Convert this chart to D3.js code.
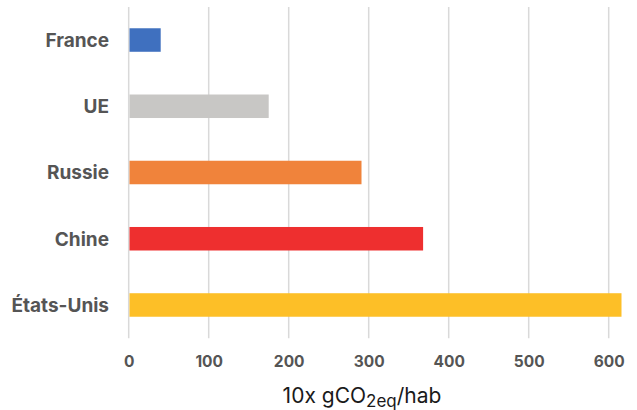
<!DOCTYPE html>
<html>
<head>
<meta charset="utf-8">
<script src="https://cdn.jsdelivr.net/npm/d3@7"></script>
<style>
  html, body { margin: 0; padding: 0; background: #fff; }
  svg { display: block; font-family: Inter, Roboto, "Liberation Sans", sans-serif; }
</style>
</head>
<body>
<svg id="chart" width="637" height="410"></svg>
<script>
const categories = ["France", "UE", "Russie", "Chine", "États-Unis"];
const values = [40, 175, 291, 368, 616];
const colors = ["#3f70bf", "#c8c7c5", "#f0833b", "#ee2f2f", "#fdbf27"];
const tickValues = [0, 100, 200, 300, 400, 500, 600];

const svg = d3.select("#chart");
const x = d3.scaleLinear().domain([0, 600]).range([128.7, 608.7]);
const y = d3.scaleBand().domain(categories).range([6.9, 338.1])
  .paddingInner(0.645).paddingOuter(0.3225);

// gridlines
svg.append("g").selectAll("line").data(tickValues).join("line")
  .attr("x1", d => x(d)).attr("x2", d => x(d))
  .attr("y1", 6.9).attr("y2", 338.3)
  .attr("stroke", "#d9d9d9").attr("stroke-width", 1.5);

// bars
svg.append("g").selectAll("rect").data(categories).join("rect")
  .attr("x", x(0) + 0.8)
  .attr("y", d => y(d))
  .attr("width", (d, i) => x(values[i]) - x(0) - 0.8)
  .attr("height", y.bandwidth())
  .attr("fill", (d, i) => colors[i]);

// category labels
svg.append("g").selectAll("text").data(categories).join("text")
  .attr("x", 109)
  .attr("y", d => y(d) + y.bandwidth() / 2)
  .attr("dy", "0.36em")
  .attr("text-anchor", "end")
  .attr("font-size", 19).attr("font-weight", 700)
  .attr("fill", "#555555")
  .text(d => d);

// x tick labels
const xAxis = d3.axisBottom(x).tickValues(tickValues).tickSize(0).tickPadding(0);
const gx = svg.append("g").attr("transform", "translate(0,367.3)").call(xAxis);
gx.select(".domain").remove();
gx.selectAll("text")
  .attr("y", 0).attr("dy", 0)
  .attr("font-size", 15.5).attr("font-weight", 700)
  .attr("fill", "#555555")
  .attr("font-family", "Inter, Roboto, 'Liberation Sans', sans-serif");

// axis title
const title = svg.append("text")
  .attr("x", 362).attr("y", 403.3)
  .attr("text-anchor", "middle")
  .attr("font-size", 21).attr("fill", "#1a1a1a");
title.append("tspan").text("10x gCO");
title.append("tspan").attr("dy", 4).attr("font-size", 17).text("2eq");
title.append("tspan").attr("dy", -4).text("/hab");
</script>
</body>
</html>
